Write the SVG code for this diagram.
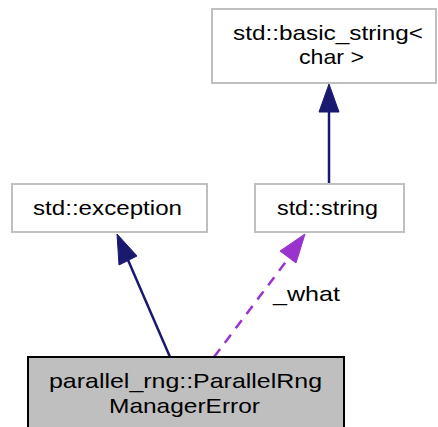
<svg xmlns="http://www.w3.org/2000/svg" width="438" height="427" viewBox="0 0 438 427">
<style>
.n rect{fill:#fff;stroke:#bfbfbf;stroke-width:2}
.n text, .lbl{font-family:"Liberation Sans",Arial,sans-serif;font-size:21px;fill:#000;text-anchor:middle}
.inh{stroke:#191970;stroke-width:2.5;fill:none}
.use{stroke:#9a32cd;stroke-width:2.5;fill:none;stroke-dasharray:10,8}
</style>
<g id="connectors">
<path class="inh" d="M329,184 L329,112"/>
<polygon points="329,84 319,112 339,112" fill="#191970" stroke="#191970"/>
<path class="inh" d="M170,357 L128,260"/>
<polygon points="117,234 119,265 137,256" fill="#191970" stroke="#191970"/>
<path class="use" d="M214,357 L288,259"/>
<polygon points="305,234 280,251 296,263" fill="#9a32cd" stroke="#9a32cd"/>
<text class="lbl" x="306.5" y="301" textLength="67" lengthAdjust="spacingAndGlyphs">_what</text>
</g>
<g id="basic_string" class="n">
<rect x="212" y="9" width="224" height="74"/>
<text x="328" y="40" textLength="190" lengthAdjust="spacingAndGlyphs">std::basic_string&lt;</text>
<text x="331.5" y="64" textLength="65" lengthAdjust="spacingAndGlyphs">char &gt;</text>
</g>
<g id="string" class="n">
<rect x="255" y="184" width="149" height="48"/>
<text x="327.5" y="215" textLength="101" lengthAdjust="spacingAndGlyphs">std::string</text>
</g>
<g id="exception" class="n">
<rect x="12" y="184" width="195" height="48"/>
<text x="107.5" y="215" textLength="149" lengthAdjust="spacingAndGlyphs">std::exception</text>
</g>
<g id="ParallelRngManagerError" class="n">
<rect x="28" y="357" width="316" height="80" style="fill:#bfbfbf;stroke:#000"/>
<text x="185.5" y="388" textLength="273" lengthAdjust="spacingAndGlyphs">parallel_rng::ParallelRng</text>
<text x="184.5" y="413" textLength="151" lengthAdjust="spacingAndGlyphs">ManagerError</text>
</g>
</svg>
